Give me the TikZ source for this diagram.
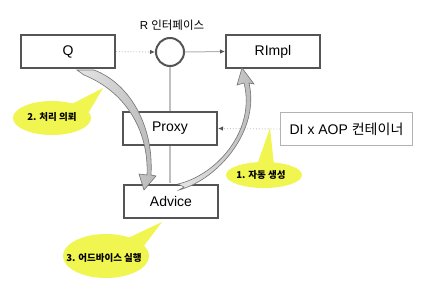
\documentclass[tikz,border=0pt]{standalone}
\usepackage{fontspec}
\setmainfont{Liberation Sans}
\newfontfamily\kr{Noto Sans CJK KR}
\usetikzlibrary{arrows.meta}
\definecolor{boxline}{RGB}{85,85,85}
\definecolor{calloutyel}{RGB}{240,245,80}
\definecolor{arrowedge}{RGB}{115,115,115}
\begin{document}
\begin{tikzpicture}[x=1pt,y=-1pt,
  boxnode/.style={draw=boxline,line width=2pt,fill=white,minimum width=94pt,minimum height=33pt,inner sep=0pt,font=\fontsize{14}{16}\selectfont},
  thinbox/.style={draw=gray!60,line width=0.8pt,fill=white,minimum width=132pt,minimum height=33pt,inner sep=0pt,font=\fontsize{14}{16}\selectfont},
  dotconn/.style={gray!45,line width=0.9pt,dotted,-{Latex[length=5pt,width=4.5pt,color=boxline]}},
  solidconn/.style={gray!60,line width=1pt,-{Latex[length=5pt,width=4.5pt,color=boxline]}},
  blockarrow/.style={draw=arrowedge,line width=0.6pt,left color=gray!20,right color=gray!55},
  calloutfill/.style={fill=calloutyel},
  callouttext/.style={font=\kr\bfseries\fontsize{9.5}{11}\selectfont,text=black,inner sep=0pt}
]
\useasboundingbox (0,0) rectangle (428,303);
\fill[white] (0,0) rectangle (428,303);

% interface circle and label
\node[circle,draw=boxline,line width=2pt,fill=white,minimum size=28pt,inner sep=0pt] (iface) at (170,52) {};
\node[font=\fontsize{11.5}{13}\selectfont,inner sep=0pt] (ilabel) at (172,25) {R {\kr 인터페이스}};

% vertical line behind proxy
\coordinate (advtop) at (170,183);
\draw[gray!50,line width=1.2pt] (iface.south) -- (advtop);

% boxes
\node[boxnode] (q) at (68,51.5) {Q};
\node[boxnode] (rimpl) at (273,51.5) {RImpl};
\node[boxnode] (proxy) at (170,128.5) {Proxy};
\node[boxnode] (advice) at (171,201) {Advice};
\node[thinbox] (di) at (346.5,129) {DI x AOP {\kr 컨테이너}};

% connectors
\draw[dotconn] (q.east) -- (iface.west);
\draw[solidconn] (iface.east) -- (rimpl.west);
\draw[dotconn] (di.west) -- (proxy.east);

% curved block arrow 1: Q -> Advice
\path[blockarrow] (77,70) -- (94,70)
  .. controls (129,83) and (154,125) .. (151,175)
  -- (156,176) -- (144,190) -- (139,174)
  -- (147,175) .. controls (149,129) and (124,91) .. (84,75) -- cycle;

% curved block arrow 2: Advice -> RImpl
\path[blockarrow] (179,190)
  .. controls (219,179) and (260,130) .. (249,83)
  -- (254,84) -- (242,68) -- (237,85) -- (244,83)
  .. controls (256,130) and (217,175) .. (178,184)
  -- (184,187) -- cycle;

% callout 2
\fill[calloutfill] (72,104) -- (103,88) -- (89,112) -- cycle;
\fill[calloutfill] (52,118) ellipse [x radius=39pt, y radius=17pt];
\node[callouttext] (c2) at (52,117) {2. 처리 의뢰};

% callout 1
\fill[calloutfill] (257,165) -- (270,128) -- (274,165) -- cycle;
\fill[calloutfill] (264,175) ellipse [x radius=38pt, y radius=13pt];
\node[callouttext] (c1) at (261,175) {1. 자동 생성};

% callout 3
\fill[calloutfill] (126,239) -- (162,222) -- (143,247) -- cycle;
\fill[calloutfill] (106,256) ellipse [x radius=43pt, y radius=22pt];
\node[callouttext] (c3) at (104,258) {3. 어드바이스 실행};
\end{tikzpicture}
\end{document}
